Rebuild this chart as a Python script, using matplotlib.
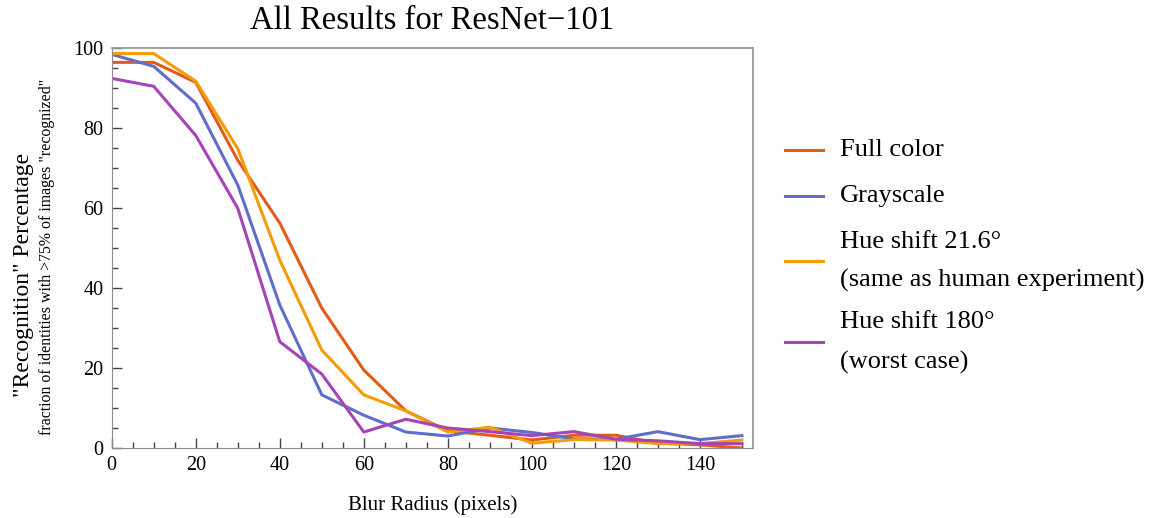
import matplotlib
matplotlib.use("Agg")
import matplotlib.pyplot as plt
from matplotlib.lines import Line2D
from matplotlib.ticker import MultipleLocator

# Blur radius in pixels
blur = [0, 10, 20, 30, 40, 50, 60, 70, 80, 90, 100, 110, 120, 130, 140, 150]

# Share of identities recognized (%)
full_color = [96.5, 96.5, 91.5, 72, 56.3, 35, 19.5, 9.3, 4.3, 3.2, 2, 3.2, 3.2, 1.2, 0.8, 0]
grayscale = [98.5, 95.5, 86.3, 65.8, 35.8, 13.3, 8.2, 4, 3, 5, 3.9, 2.3, 2.2, 4.1, 2.1, 3.1]
hue_21_6 = [98.7, 98.7, 91.8, 74.9, 47, 24.5, 13.3, 9.3, 4, 5.2, 1.2, 2.1, 2, 1.1, 1.1, 2]
hue_180 = [92.5, 90.5, 78.2, 60, 26.6, 18.5, 4, 7.2, 5, 4.1, 3.1, 4.1, 2.2, 1.8, 1.1, 1.1]

series = [
    (full_color, "#E35C17", ["Full color"]),
    (grayscale, "#5E6ECB", ["Grayscale"]),
    (hue_21_6, "#F49B0A", ["Hue shift 21.6\u00b0", "(same as human experiment)"]),
    (hue_180, "#A444B7", ["Hue shift 180\u00b0", "(worst case)"]),
]

plt.rcParams["font.family"] = ["Liberation Serif", "DejaVu Serif"]

W, H = 1152, 518
fig = plt.figure(figsize=(W / 100, H / 100), dpi=100)
ax = fig.add_axes([0.097, 0.1351, 0.5565, 0.7715])

for values, color, label in series:
    ax.plot(blur, values, color=color, lw=2.2)

ax.set_xlim(0, 152.6)
ax.set_ylim(0, 100)
ax.xaxis.set_major_locator(MultipleLocator(20))
ax.xaxis.set_minor_locator(MultipleLocator(5))
ax.yaxis.set_major_locator(MultipleLocator(20))
ax.yaxis.set_minor_locator(MultipleLocator(5))
ax.tick_params(which="both", direction="in", color="#444444", width=1,
               labelsize=14.5, pad=6, top=False, right=False)
ax.tick_params(which="major", length=7)
ax.tick_params(which="minor", length=4)
for side in ["left", "bottom"]:
    ax.spines[side].set_color("#8c8c8c")
for side in ["top", "right"]:
    ax.spines[side].set_color("#9a9a9a")
    ax.spines[side].set_linewidth(1.3)

ax.set_title("All Results for ResNet\u2212101", fontsize=23.5, pad=14)
ax.set_xlabel("Blur Radius (pixels)", fontsize=15, labelpad=14)

# two-line y label: main label plus a smaller explanatory line
fig.text(0.020, 0.469, "\"Recognition\" Percentage", rotation=90,
         fontsize=17, ha="center", va="center")
fig.text(0.0405, 0.505, "fraction of identities with >75% of images \"recognized\"",
         rotation=90, fontsize=11.4, ha="center", va="center")

# legend drawn by hand so multi-line entries get wider line spacing
entry_rows = [(150, [150]), (196, [196]), (261, [242, 280]), (342, [322, 362])]
for (values, color, label), (handle_y, text_ys) in zip(series, entry_rows):
    fig.add_artist(Line2D([785 / W, 823 / W], [1 - handle_y / H] * 2,
                          color=color, lw=2.2, transform=fig.transFigure))
    for line_text, ty in zip(label, text_ys):
        fig.text(840 / W, 1 - ty / H, line_text, fontsize=19,
                 ha="left", va="center")

fig.savefig("out.png", dpi=100)
